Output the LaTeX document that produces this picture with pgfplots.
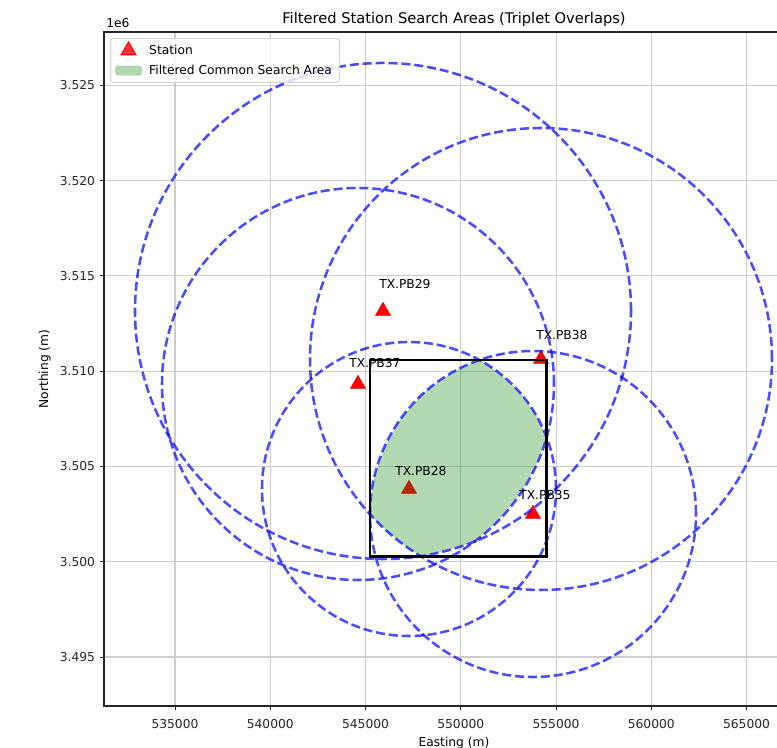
\documentclass[border=0pt]{standalone}
\usepackage{fontspec}
\setmainfont{DejaVu Sans}
\usepackage{pgfplots}
\pgfplotsset{compat=1.18}
\definecolor{mplgreen}{RGB}{0,128,0}
\definecolor{gridgray}{RGB}{205,205,205}
\definecolor{legedge}{RGB}{210,210,210}
\newcommand{\basefont}{\fontsize{9.2pt}{11pt}\selectfont}
\pgfplotsset{
  stationleg/.style={legend image code/.code={\draw[##1, mark repeat=2, mark phase=2] plot coordinates {(0pt,0pt) (10pt,0pt) (20pt,0pt)};}},
  arealeg/.style={legend image code/.code={\fill[##1] (0pt,-3.75pt) rectangle (20pt,3.75pt);}},
}
\begin{document}
\begin{tikzpicture}
\begin{axis}[
  scale only axis,
  width=525pt, height=505.5pt,
  xmin=531273, xmax=568016,
  ymin=3492428, ymax=3527806,
  clip marker paths=true,
  xtick={535000,540000,545000,550000,555000,560000,565000},
  xticklabels={535000,540000,545000,550000,555000,560000,565000},
  ytick={3495000,3500000,3505000,3510000,3515000,3520000,3525000},
  yticklabels={3.495,3.500,3.505,3.510,3.515,3.520,3.525},
  scaled x ticks=false, scaled y ticks=false,
  tick label style={font=\basefont, text=black!85},
  xticklabel style={yshift=-3pt},
  label style={font=\basefont},
  xlabel={Easting (m)}, ylabel={Northing (m)},
  title={Filtered Station Search Areas (Triplet Overlaps)},
  title style={font=\fontsize{11pt}{13pt}\selectfont, at={(0.5,1)}, anchor=base, yshift=0pt},
  grid=major,
  major grid style={gridgray, line width=0.8pt},
  tick align=outside, tick pos=left,
  major tick length=3.2pt,
  tick style={black!85, line width=0.7pt},
  axis line style={black!85, line width=0.8pt},
  legend cell align=left,
  legend style={at={(0.0087,0.991)}, anchor=north west, font=\basefont,
    draw=legedge, line width=0.7pt, rounded corners=2pt, fill=white, fill opacity=0.8, text opacity=1,
    inner xsep=3.5pt, inner ysep=2.5pt, row sep=2.6pt,
    nodes={inner sep=2pt, text depth=0.15em},
    /tikz/every odd column/.append style={column sep=3.5pt}},
]
% stations
\addplot[only marks, mark=triangle*, mark size=6.5pt, color=red, stationleg]
  coordinates {(545918,3513162) (544605,3509330) (554211,3510642) (547282,3503818) (553791,3502506)};
\addlegendentry{Station}
% filtered common search area
\addplot[fill=mplgreen, fill opacity=0.3, draw=none, arealeg]
  coordinates {
  (545235,3502490) (545424,3504285) (545975,3505986) (546868,3507535) (548065,3508863)
  (549513,3509918) (550978,3510590) (552138,3509813) (553104,3508878) (553896,3507792)
  (554510,3506532) (553928,3504984) (553135,3503577) (552007,3502181) (550736,3501073)
  (549288,3500590) (547886,3500291) (546915,3500958) (546018,3501703) (545235,3502490)} -- cycle;
\addlegendentry{Filtered Common Search Area}
% search circles
\draw[blue, draw opacity=0.7, line width=1.9pt, dash pattern=on 6.8pt off 2.9pt] (axis cs:545918,3513162) circle [radius=13018];
\draw[blue, draw opacity=0.7, line width=1.9pt, dash pattern=on 6.8pt off 2.9pt] (axis cs:544605,3509330) circle [radius=10288];
\draw[blue, draw opacity=0.7, line width=1.9pt, dash pattern=on 6.8pt off 2.9pt] (axis cs:554211,3510642) circle [radius=12125];
\draw[blue, draw opacity=0.7, line width=1.9pt, dash pattern=on 6.8pt off 2.9pt] (axis cs:547282,3503818) circle [radius=7716];
\draw[blue, draw opacity=0.7, line width=1.9pt, dash pattern=on 6.8pt off 2.9pt] (axis cs:553791,3502506) circle [radius=8556];
% bounding box of the area
\addplot[black, line width=2pt, forget plot] coordinates {(545235,3500291) (554510,3500291) (554510,3510590) (545235,3510590)} -- cycle;
% labels
\node[anchor=west, inner sep=0pt, font=\basefont] at (axis cs:545709,3514580) {TX.PB29};
\node[anchor=west, inner sep=0pt, font=\basefont] at (axis cs:544134,3510433) {TX.PB37};
\node[anchor=west, inner sep=0pt, font=\basefont] at (axis cs:553950,3511903) {TX.PB38};
\node[anchor=west, inner sep=0pt, font=\basefont] at (axis cs:546549,3504764) {TX.PB28};
\node[anchor=west, inner sep=0pt, font=\basefont] at (axis cs:553058,3503504) {TX.PB35};
\end{axis}
\node[anchor=base west, inner sep=0pt, font=\basefont, xshift=1.5pt, yshift=3pt] at (current axis.north west) {1e6};
\pgfresetboundingbox
\useasboundingbox (-78pt,-31.5pt) rectangle (504.75pt,529.5pt);
\end{tikzpicture}
\end{document}
